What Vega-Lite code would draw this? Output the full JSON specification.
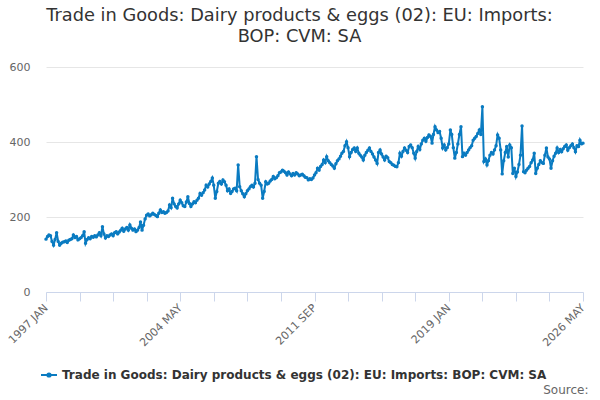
{
  "$schema": "https://vega.github.io/schema/vega-lite/v6.json",
  "width": 537,
  "height": 225,
  "autosize": "none",
  "padding": {"left": 46, "top": 67, "right": 17, "bottom": 108},
  "background": "white",
  "config": {"font": "DejaVu Sans", "view": {"stroke": null}},
  "title": {
    "text": ["Trade in Goods: Dairy products & eggs (02): EU: Imports:", "BOP: CVM: SA"],
    "fontSize": 17.8,
    "fontWeight": "normal",
    "color": "#333333",
    "lineHeight": 21,
    "anchor": "middle",
    "dx": -15,
    "offset": 15
  },
  "data": {
    "format": {"parse": {"d": "utc:'%Y-%m'"}},
    "values": [
{"d":"1997-01","v":141},{"d":"1997-02","v":148},{"d":"1997-03","v":152},{"d":"1997-04","v":150},{"d":"1997-05","v":135},{"d":"1997-06","v":125},{"d":"1997-07","v":140},{"d":"1997-08","v":158},{"d":"1997-09","v":135},{"d":"1997-10","v":125},{"d":"1997-11","v":130},{"d":"1997-12","v":133},
{"d":"1998-01","v":134},{"d":"1998-02","v":136},{"d":"1998-03","v":132},{"d":"1998-04","v":138},{"d":"1998-05","v":140},{"d":"1998-06","v":142},{"d":"1998-07","v":152},{"d":"1998-08","v":145},{"d":"1998-09","v":148},{"d":"1998-10","v":139},{"d":"1998-11","v":142},{"d":"1998-12","v":145},
{"d":"1999-01","v":150},{"d":"1999-02","v":161},{"d":"1999-03","v":130},{"d":"1999-04","v":140},{"d":"1999-05","v":145},{"d":"1999-06","v":142},{"d":"1999-07","v":148},{"d":"1999-08","v":146},{"d":"1999-09","v":150},{"d":"1999-10","v":147},{"d":"1999-11","v":152},{"d":"1999-12","v":158},
{"d":"2000-01","v":150},{"d":"2000-02","v":174},{"d":"2000-03","v":155},{"d":"2000-04","v":144},{"d":"2000-05","v":150},{"d":"2000-06","v":148},{"d":"2000-07","v":152},{"d":"2000-08","v":155},{"d":"2000-09","v":150},{"d":"2000-10","v":158},{"d":"2000-11","v":161},{"d":"2000-12","v":155},
{"d":"2001-01","v":160},{"d":"2001-02","v":165},{"d":"2001-03","v":170},{"d":"2001-04","v":162},{"d":"2001-05","v":168},{"d":"2001-06","v":172},{"d":"2001-07","v":165},{"d":"2001-08","v":179},{"d":"2001-09","v":170},{"d":"2001-10","v":165},{"d":"2001-11","v":168},{"d":"2001-12","v":161},
{"d":"2002-01","v":165},{"d":"2002-02","v":172},{"d":"2002-03","v":187},{"d":"2002-04","v":165},{"d":"2002-05","v":178},{"d":"2002-06","v":195},{"d":"2002-07","v":205},{"d":"2002-08","v":208},{"d":"2002-09","v":203},{"d":"2002-10","v":206},{"d":"2002-11","v":210},{"d":"2002-12","v":207},
{"d":"2003-01","v":204},{"d":"2003-02","v":201},{"d":"2003-03","v":210},{"d":"2003-04","v":219},{"d":"2003-05","v":212},{"d":"2003-06","v":214},{"d":"2003-07","v":210},{"d":"2003-08","v":212},{"d":"2003-09","v":216},{"d":"2003-10","v":232},{"d":"2003-11","v":225},{"d":"2003-12","v":250},
{"d":"2004-01","v":235},{"d":"2004-02","v":228},{"d":"2004-03","v":224},{"d":"2004-04","v":235},{"d":"2004-05","v":245},{"d":"2004-06","v":238},{"d":"2004-07","v":230},{"d":"2004-08","v":228},{"d":"2004-09","v":240},{"d":"2004-10","v":254},{"d":"2004-11","v":236},{"d":"2004-12","v":228},
{"d":"2005-01","v":235},{"d":"2005-02","v":241},{"d":"2005-03","v":238},{"d":"2005-04","v":245},{"d":"2005-05","v":250},{"d":"2005-06","v":263},{"d":"2005-07","v":258},{"d":"2005-08","v":265},{"d":"2005-09","v":272},{"d":"2005-10","v":285},{"d":"2005-11","v":280},{"d":"2005-12","v":288},
{"d":"2006-01","v":295},{"d":"2006-02","v":304},{"d":"2006-03","v":285},{"d":"2006-04","v":250},{"d":"2006-05","v":268},{"d":"2006-06","v":290},{"d":"2006-07","v":295},{"d":"2006-08","v":288},{"d":"2006-09","v":299},{"d":"2006-10","v":294},{"d":"2006-11","v":285},{"d":"2006-12","v":270},
{"d":"2007-01","v":275},{"d":"2007-02","v":263},{"d":"2007-03","v":268},{"d":"2007-04","v":275},{"d":"2007-05","v":277},{"d":"2007-06","v":270},{"d":"2007-07","v":339},{"d":"2007-08","v":281},{"d":"2007-09","v":270},{"d":"2007-10","v":262},{"d":"2007-11","v":254},{"d":"2007-12","v":262},
{"d":"2008-01","v":270},{"d":"2008-02","v":275},{"d":"2008-03","v":281},{"d":"2008-04","v":285},{"d":"2008-05","v":280},{"d":"2008-06","v":290},{"d":"2008-07","v":361},{"d":"2008-08","v":300},{"d":"2008-09","v":290},{"d":"2008-10","v":285},{"d":"2008-11","v":250},{"d":"2008-12","v":268},
{"d":"2009-01","v":294},{"d":"2009-02","v":288},{"d":"2009-03","v":290},{"d":"2009-04","v":296},{"d":"2009-05","v":300},{"d":"2009-06","v":308},{"d":"2009-07","v":302},{"d":"2009-08","v":305},{"d":"2009-09","v":310},{"d":"2009-10","v":318},{"d":"2009-11","v":320},{"d":"2009-12","v":325},
{"d":"2010-01","v":322},{"d":"2010-02","v":318},{"d":"2010-03","v":312},{"d":"2010-04","v":320},{"d":"2010-05","v":315},{"d":"2010-06","v":310},{"d":"2010-07","v":316},{"d":"2010-08","v":312},{"d":"2010-09","v":318},{"d":"2010-10","v":315},{"d":"2010-11","v":310},{"d":"2010-12","v":312},
{"d":"2011-01","v":314},{"d":"2011-02","v":310},{"d":"2011-03","v":306},{"d":"2011-04","v":305},{"d":"2011-05","v":299},{"d":"2011-06","v":302},{"d":"2011-07","v":300},{"d":"2011-08","v":304},{"d":"2011-09","v":312},{"d":"2011-10","v":318},{"d":"2011-11","v":330},{"d":"2011-12","v":325},
{"d":"2012-01","v":335},{"d":"2012-02","v":340},{"d":"2012-03","v":352},{"d":"2012-04","v":345},{"d":"2012-05","v":361},{"d":"2012-06","v":350},{"d":"2012-07","v":345},{"d":"2012-08","v":340},{"d":"2012-09","v":336},{"d":"2012-10","v":330},{"d":"2012-11","v":342},{"d":"2012-12","v":350},
{"d":"2013-01","v":355},{"d":"2013-02","v":362},{"d":"2013-03","v":370},{"d":"2013-04","v":375},{"d":"2013-05","v":390},{"d":"2013-06","v":401},{"d":"2013-07","v":385},{"d":"2013-08","v":361},{"d":"2013-09","v":372},{"d":"2013-10","v":380},{"d":"2013-11","v":384},{"d":"2013-12","v":375},
{"d":"2014-01","v":384},{"d":"2014-02","v":370},{"d":"2014-03","v":365},{"d":"2014-04","v":360},{"d":"2014-05","v":352},{"d":"2014-06","v":365},{"d":"2014-07","v":372},{"d":"2014-08","v":378},{"d":"2014-09","v":384},{"d":"2014-10","v":375},{"d":"2014-11","v":368},{"d":"2014-12","v":360},
{"d":"2015-01","v":352},{"d":"2015-02","v":343},{"d":"2015-03","v":372},{"d":"2015-04","v":379},{"d":"2015-05","v":368},{"d":"2015-06","v":360},{"d":"2015-07","v":352},{"d":"2015-08","v":362},{"d":"2015-09","v":358},{"d":"2015-10","v":348},{"d":"2015-11","v":345},{"d":"2015-12","v":340},
{"d":"2016-01","v":338},{"d":"2016-02","v":335},{"d":"2016-03","v":334},{"d":"2016-04","v":345},{"d":"2016-05","v":370},{"d":"2016-06","v":362},{"d":"2016-07","v":375},{"d":"2016-08","v":384},{"d":"2016-09","v":378},{"d":"2016-10","v":372},{"d":"2016-11","v":388},{"d":"2016-12","v":392},
{"d":"2017-01","v":385},{"d":"2017-02","v":370},{"d":"2017-03","v":357},{"d":"2017-04","v":375},{"d":"2017-05","v":388},{"d":"2017-06","v":380},{"d":"2017-07","v":395},{"d":"2017-08","v":405},{"d":"2017-09","v":410},{"d":"2017-10","v":402},{"d":"2017-11","v":412},{"d":"2017-12","v":419},
{"d":"2018-01","v":415},{"d":"2018-02","v":397},{"d":"2018-03","v":420},{"d":"2018-04","v":441},{"d":"2018-05","v":432},{"d":"2018-06","v":425},{"d":"2018-07","v":428},{"d":"2018-08","v":410},{"d":"2018-09","v":384},{"d":"2018-10","v":392},{"d":"2018-11","v":379},{"d":"2018-12","v":385},
{"d":"2019-01","v":395},{"d":"2019-02","v":432},{"d":"2019-03","v":420},{"d":"2019-04","v":385},{"d":"2019-05","v":357},{"d":"2019-06","v":372},{"d":"2019-07","v":395},{"d":"2019-08","v":420},{"d":"2019-09","v":441},{"d":"2019-10","v":361},{"d":"2019-11","v":370},{"d":"2019-12","v":365},
{"d":"2020-01","v":372},{"d":"2020-02","v":379},{"d":"2020-03","v":385},{"d":"2020-04","v":390},{"d":"2020-05","v":405},{"d":"2020-06","v":410},{"d":"2020-07","v":415},{"d":"2020-08","v":423},{"d":"2020-09","v":432},{"d":"2020-10","v":420},{"d":"2020-11","v":494},{"d":"2020-12","v":348},
{"d":"2021-01","v":355},{"d":"2021-02","v":339},{"d":"2021-03","v":350},{"d":"2021-04","v":365},{"d":"2021-05","v":372},{"d":"2021-06","v":368},{"d":"2021-07","v":379},{"d":"2021-08","v":390},{"d":"2021-09","v":419},{"d":"2021-10","v":410},{"d":"2021-11","v":379},{"d":"2021-12","v":315},
{"d":"2022-01","v":350},{"d":"2022-02","v":372},{"d":"2022-03","v":388},{"d":"2022-04","v":360},{"d":"2022-05","v":392},{"d":"2022-06","v":385},{"d":"2022-07","v":316},{"d":"2022-08","v":330},{"d":"2022-09","v":308},{"d":"2022-10","v":320},{"d":"2022-11","v":340},{"d":"2022-12","v":365},
{"d":"2023-01","v":443},{"d":"2023-02","v":321},{"d":"2023-03","v":318},{"d":"2023-04","v":325},{"d":"2023-05","v":330},{"d":"2023-06","v":335},{"d":"2023-07","v":345},{"d":"2023-08","v":352},{"d":"2023-09","v":370},{"d":"2023-10","v":316},{"d":"2023-11","v":330},{"d":"2023-12","v":340},
{"d":"2024-01","v":350},{"d":"2024-02","v":345},{"d":"2024-03","v":343},{"d":"2024-04","v":365},{"d":"2024-05","v":384},{"d":"2024-06","v":360},{"d":"2024-07","v":355},{"d":"2024-08","v":330},{"d":"2024-09","v":350},{"d":"2024-10","v":362},{"d":"2024-11","v":370},{"d":"2024-12","v":384},
{"d":"2025-01","v":372},{"d":"2025-02","v":380},{"d":"2025-03","v":374},{"d":"2025-04","v":382},{"d":"2025-05","v":388},{"d":"2025-06","v":392},{"d":"2025-07","v":378},{"d":"2025-08","v":385},{"d":"2025-09","v":390},{"d":"2025-10","v":395},{"d":"2025-11","v":385},{"d":"2025-12","v":374},
{"d":"2026-01","v":390},{"d":"2026-02","v":388},{"d":"2026-03","v":405},{"d":"2026-04","v":395},{"d":"2026-05","v":397}
    ]
  },
  "mark": {"type": "line", "strokeWidth": 2, "point": {"filled": true, "size": 12}},
  "encoding": {
    "x": {
      "field": "d",
      "type": "temporal",
      "scale": {"type": "utc", "nice": false, "domain": [{"year": 1997, "month": 1, "date": 1, "utc": true}, {"year": 2026, "month": 5, "date": 1, "utc": true}]},
      "axis": {
        "values": [
          {"year": 1997, "month": 1, "date": 1, "utc": true},
          {"year": 1998, "month": 11, "date": 1, "utc": true},
          {"year": 2000, "month": 9, "date": 1, "utc": true},
          {"year": 2002, "month": 7, "date": 1, "utc": true},
          {"year": 2004, "month": 5, "date": 1, "utc": true},
          {"year": 2006, "month": 3, "date": 1, "utc": true},
          {"year": 2008, "month": 1, "date": 1, "utc": true},
          {"year": 2009, "month": 11, "date": 1, "utc": true},
          {"year": 2011, "month": 9, "date": 1, "utc": true},
          {"year": 2013, "month": 7, "date": 1, "utc": true},
          {"year": 2015, "month": 5, "date": 1, "utc": true},
          {"year": 2017, "month": 3, "date": 1, "utc": true},
          {"year": 2019, "month": 1, "date": 1, "utc": true},
          {"year": 2020, "month": 11, "date": 1, "utc": true},
          {"year": 2022, "month": 9, "date": 1, "utc": true},
          {"year": 2024, "month": 7, "date": 1, "utc": true},
          {"year": 2026, "month": 5, "date": 1, "utc": true}
        ],
        "labelExpr": "indexof(['1997-01','2004-05','2011-09','2019-01','2026-05'], utcFormat(datum.value, '%Y-%m')) >= 0 ? upper(utcFormat(datum.value, '%Y %b')) : ''",
        "labelAngle": -45,
        "labelAlign": "right",
        "labelBaseline": "middle",
        "labelFontSize": 11,
        "labelColor": "#666666",
        "labelPadding": 5,
        "labelOverlap": false,
        "labelFlush": false,
        "grid": false,
        "domainColor": "#ccd6eb",
        "tickColor": "#ccd6eb",
        "tickSize": 9,
        "title": "Source:",
        "titleAnchor": "end",
        "titleAlign": "right",
        "titleBaseline": "bottom",
        "titleX": 542,
        "titleY": 104,
        "titleFontSize": 12,
        "titleFontWeight": "normal",
        "titleColor": "#666666"
      }
    },
    "y": {
      "field": "v",
      "type": "quantitative",
      "scale": {"domain": [0, 600], "nice": false},
      "axis": {
        "values": [0, 200, 400, 600],
        "title": null,
        "domain": false,
        "ticks": false,
        "gridColor": "#e6e6e6",
        "labelFontSize": 11,
        "labelColor": "#666666",
        "labelPadding": 16
      }
    },
    "color": {
      "datum": "Trade in Goods: Dairy products & eggs (02): EU: Imports: BOP: CVM: SA",
      "scale": {"range": ["#0a7bc1"]},
      "legend": {
        "title": null,
        "orient": "none",
        "legendX": -6,
        "legendY": 299,
        "symbolType": "M-1,0L1,0M-0.2,0A0.2,0.2 0 1,1 0.2,0A0.2,0.2 0 1,1 -0.2,0",
        "symbolSize": 256,
        "symbolStrokeWidth": 2,
        "labelFontSize": 12,
        "labelFontWeight": "bold",
        "labelColor": "#333333",
        "labelLimit": 700
      }
    }
  }
}
